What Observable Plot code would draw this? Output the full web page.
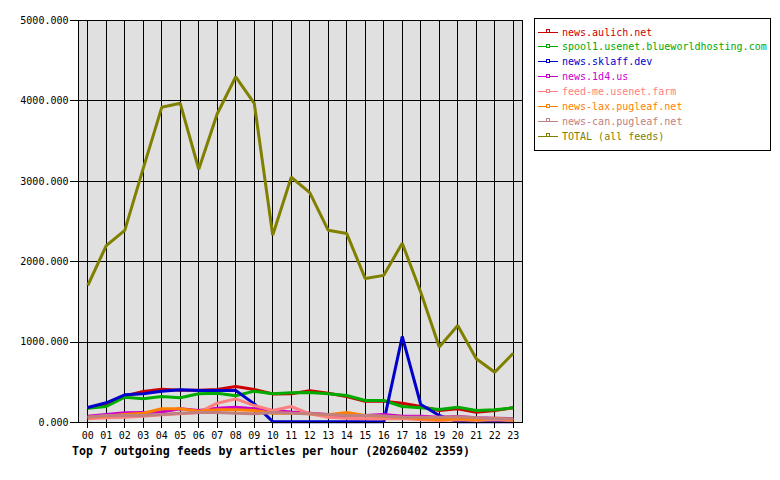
<!DOCTYPE html>
<html><head><meta charset="utf-8">
<script src="https://cdn.jsdelivr.net/npm/d3@7"></script>
<script src="https://cdn.jsdelivr.net/npm/@observablehq/plot@0.6"></script>
<style>
body{margin:0;background:#fff;}
#wrap{position:relative;width:780px;height:480px;font-family:"DejaVu Sans Mono",monospace;}
#title{position:absolute;left:72px;top:444px;font-size:11.6px;font-weight:bold;color:#000;white-space:pre;}
#legend{position:absolute;left:0;top:0;}
</style></head>
<body><div id="wrap"><div id="chart"></div><div id="title"></div><svg id="legend" width="780" height="480"></svg></div>
<script>
const hourLabels = ["00","01","02","03","04","05","06","07","08","09","10","11","12","13","14","15","16","17","18","19","20","21","22","23"];
const seriesNames = ["news.aulich.net","spool1.usenet.blueworldhosting.com","news.sklaff.dev","news.1d4.us","feed-me.usenet.farm","news-lax.pugleaf.net","news-can.pugleaf.net","TOTAL (all feeds)"];
const seriesColors = ["#cc0000","#00aa00","#0000cc","#cc00cc","#ff8080","#ff8000","#c08080","#808000"];
const aulich  = [180,230,330,385,415,400,400,410,448,410,356,357,394,365,323,265,265,240,199,149,170,128,149,183];
const spool1  = [178,199,315,294,323,307,357,365,332,390,357,369,373,357,336,274,274,199,183,162,191,149,158,183];
const sklaff  = [187,245,344,357,390,406,398,398,398,232,10,8,8,8,8,8,8,1070,224,87,10,10,10,10];
const d14     = [79,100,120,125,130,170,150,178,191,170,149,130,116,100,75,87,100,79,79,66,75,58,54,50];
const feedme  = [46,58,66,79,96,108,125,240,294,211,149,199,108,66,54,46,46,50,33,25,33,25,33,25];
const lax     = [66,80,100,116,170,170,141,158,158,149,116,116,108,96,125,87,75,66,46,33,46,33,54,33];
const can     = [66,87,87,87,100,116,125,125,116,108,125,116,108,100,87,87,80,66,66,66,70,60,46,46];
const total   = [1704,2200,2390,3160,3920,3970,3150,3840,4300,3970,2330,3050,2860,2390,2350,1790,1830,2230,1620,940,1206,792,625,862];
const yTicks = [0,1000,2000,3000,4000,5000];

const allSeries = [aulich,spool1,sklaff,d14,feedme,lax,can,total];
const rows = [];
allSeries.forEach((vals,si)=>vals.forEach((v,h)=>rows.push({series:seriesNames[si],hour:h,value:v})));
const hours = d3.range(hourLabels.length);

const chart = Plot.plot({
  width:780, height:480,
  marginLeft:78, marginRight:258, marginTop:20, marginBottom:58,
  style:{fontFamily:"DejaVu Sans Mono, monospace",fontSize:"10px",color:"#000",background:"#fff"},
  x:{domain:[-0.5,hourLabels.length-0.5],label:null},
  y:{domain:[0,5000],label:null},
  marks:[
    Plot.frame({fill:"#e0e0e0",stroke:null}),
    Plot.ruleX(hours,{stroke:"#000",strokeWidth:1,strokeOpacity:1,shapeRendering:"crispEdges"}),
    Plot.ruleY(yTicks,{stroke:"#000",strokeWidth:1,strokeOpacity:1,shapeRendering:"crispEdges"}),
    ...seriesNames.map((n,i)=>Plot.line(rows.filter(r=>r.series===n),{x:"hour",y:"value",stroke:seriesColors[i],strokeWidth:3,strokeLinejoin:"miter",strokeLinecap:"butt"})),
    Plot.frame({stroke:"#000",strokeWidth:1,shapeRendering:"crispEdges"}),
    Plot.axisX({ticks:hours,tickFormat:d=>hourLabels[d],tickSize:6,tickPadding:3,strokeWidth:1,shapeRendering:"crispEdges"}),
    Plot.axisY({ticks:yTicks,tickFormat:d3.format(".3f"),tickSize:8,tickPadding:2,strokeWidth:1,shapeRendering:"crispEdges"})
  ]
});
document.getElementById("chart").appendChild(chart);
document.getElementById("title").textContent = "Top 7 outgoing feeds by articles per hour (20260402 2359)";

const lg = d3.select("#legend");
lg.append("rect").attr("x",534.5).attr("y",18.5).attr("width",236).attr("height",132).attr("fill","#fff").attr("stroke","#000").attr("stroke-width",1);
seriesNames.forEach((n,i)=>{
  const y = 32 + i*14.9;
  lg.append("line").attr("x1",538).attr("x2",558).attr("y1",y).attr("y2",y).attr("stroke",seriesColors[i]).attr("stroke-width",1).attr("shape-rendering","crispEdges");
  lg.append("rect").attr("x",546.5).attr("y",y-2.5).attr("width",3).attr("height",3).attr("fill","#fff").attr("stroke",seriesColors[i]).attr("stroke-width",1).attr("shape-rendering","crispEdges");
  lg.append("text").attr("x",562).attr("y",y+3.5).attr("fill",seriesColors[i]).attr("font-family","DejaVu Sans Mono, monospace").attr("font-size","10px").text(n);
});
</script></body></html>
